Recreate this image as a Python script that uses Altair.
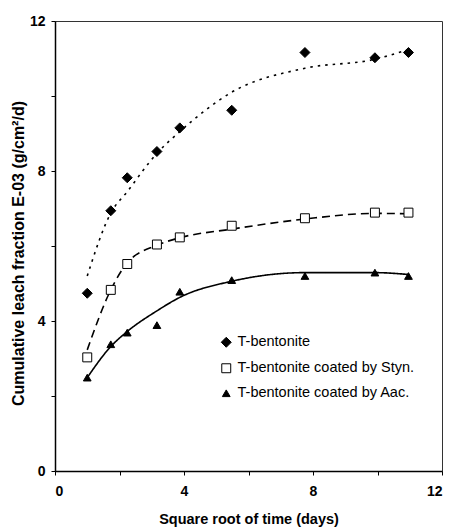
import altair as alt
import pandas as pd

# ---- data ----
x_vals = [1.0, 1.73, 2.24, 3.16, 3.87, 5.48, 7.75, 9.92, 10.96]
series_names = ["T-bentonite", "T-bentonite coated by Styn.", "T-bentonite coated by Aac."]
bentonite = [4.74, 6.94, 7.82, 8.52, 9.15, 9.62, 11.16, 11.02, 11.16]
styn = [3.03, 4.83, 5.52, 6.04, 6.23, 6.54, 6.74, 6.89, 6.89]
aac = [2.49, 3.38, 3.69, 3.89, 4.78, 5.09, 5.20, 5.29, 5.20]
# trend lines
bentonite_fit = [5.2, 6.88, 7.45, 8.47, 9.05, 10.1, 10.74, 10.98, 11.24]
styn_fit = [3.23, 4.83, 5.55, 6.02, 6.22, 6.45, 6.72, 6.87, 6.86]
aac_fit = [2.49, 3.32, 3.72, 4.27, 4.63, 5.06, 5.29, 5.29, 5.24]
tick_values = [0, 2, 4, 6, 8, 10, 12]

pts_rows = []
for name, ys in zip(series_names, [bentonite, styn, aac]):
    for xv, yv in zip(x_vals, ys):
        pts_rows.append({"x": xv, "y": yv, "series": name})
pts = pd.DataFrame(pts_rows)

FONT = "Liberation Sans"

x_enc = alt.X(
    "x:Q",
    scale=alt.Scale(domain=[0, 12], nice=False, zero=False),
    axis=alt.Axis(
        values=tick_values,
        labelExpr="datum.value % 4 == 0 ? datum.label : ''",
        title="Square root of time (days)",
        grid=False, tickSize=4, labelPadding=9,
        domainColor="black", tickColor="black", domainWidth=1.5,
        labelFont=FONT, labelFontSize=14, labelFontWeight="bold", labelColor="black",
        titleFont=FONT, titleFontSize=14.5, titleFontWeight="bold", titleColor="black",
        titleBaseline="alphabetic", titleY=52,
    ),
)
y_enc = alt.Y(
    "y:Q",
    scale=alt.Scale(domain=[0, 12], nice=False, zero=False),
    axis=alt.Axis(
        values=tick_values,
        labelExpr="datum.value % 4 == 0 ? datum.label : ''",
        title="Cumulative leach fraction E-03 (g/cm²/d)",
        grid=False, tickSize=4, labelPadding=6,
        domainColor="black", tickColor="black", domainWidth=1.5,
        labelFont=FONT, labelFontSize=14, labelFontWeight="bold", labelColor="black",
        titleFont=FONT, titleFontSize=16, titleFontWeight="bold", titleColor="black",
        titleBaseline="alphabetic", titleX=-32, titleY=232, titleAngle=270,
    ),
)

leg = alt.Legend(
    title=None, orient="none", legendX=164, legendY=314,
    labelFont=FONT, labelFontSize=14.5, labelColor="black", labelOffset=4, labelLimit=400,
    rowPadding=10, padding=0, symbolSize=64, symbolStrokeColor="black", symbolStrokeWidth=1,
)


def fit_line(values, dash):
    df = pd.DataFrame({"x": x_vals, "y": values})
    return alt.Chart(df).mark_line(
        color="black", strokeWidth=1.6, interpolate="monotone", strokeDash=dash
    ).encode(x=x_enc, y=y_enc)


lines = [
    fit_line(bentonite_fit, [2.5, 5]),
    fit_line(styn_fit, [8, 5]),
    fit_line(aac_fit, [1, 0]),
]

points = alt.Chart(pts).mark_point(filled=True, strokeWidth=1, opacity=1).encode(
    x=x_enc, y=y_enc,
    shape=alt.Shape("series:N", scale=alt.Scale(domain=series_names, range=["diamond", "square", "triangle-up"]), legend=leg),
    fill=alt.Fill("series:N", scale=alt.Scale(domain=series_names, range=["black", "white", "black"]), legend=leg),
    stroke=alt.Stroke("series:N", scale=alt.Scale(domain=series_names, range=["black", "black", "black"]), legend=leg),
    size=alt.Size("series:N", scale=alt.Scale(domain=series_names, range=[100, 60, 120]), legend=leg),
)

chart = alt.layer(*lines, points).properties(
    width=387, height=450,
    autosize=alt.AutoSizeParams(type="none"),
    padding={"left": 55, "top": 21, "right": 9, "bottom": 56},
    background="white",
).configure_view(stroke="#333333", strokeWidth=1)

chart.save("out.html", embed_options={"renderer": "svg", "actions": False})
